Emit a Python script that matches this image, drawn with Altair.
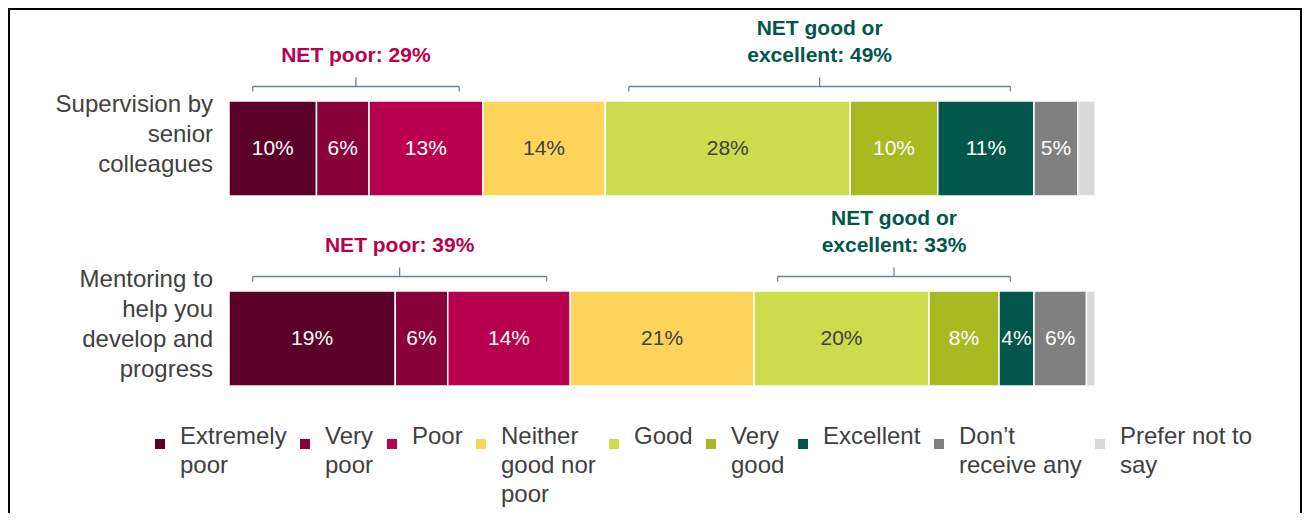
import altair as alt
import pandas as pd

# ---------------- data ----------------
categories = ["Supervision by senior colleagues",
              "Mentoring to help you develop and progress"]
category_lines = ["Supervision by\nsenior\ncolleagues",
                  "Mentoring to\nhelp you\ndevelop and\nprogress"]
responses = ["Extremely poor", "Very poor", "Poor", "Neither good nor poor",
             "Good", "Very good", "Excellent", "Don\u2019t receive any",
             "Prefer not to say"]
legend_lines = [["Extremely", "poor"], ["Very", "poor"], ["Poor"],
                ["Neither", "good nor", "poor"], ["Good"], ["Very", "good"],
                ["Excellent"], ["Don\u2019t", "receive any"],
                ["Prefer not to", "say"]]
supervision = [10, 6, 13, 14, 28, 10, 11, 5, 2]
mentoring = [19, 6, 14, 21, 20, 8, 4, 6, 1]
show_label = [True, True, True, True, True, True, True, True, False]
dark_text = [False, False, False, True, True, False, False, False, False]
net_poor = [29, 39]
net_good = [49, 33]

colors = ["#5b0026", "#8a0039", "#b8004e", "#ffd45a", "#cbdc4c",
          "#a8ba22", "#02574a", "#808080", "#d9d9d9"]
POOR_C = "#b8004e"
GOOD_C = "#02574a"
BRACKET_C = "#6b8299"
TEXT_C = "#404040"

# ---------------- layout ----------------
W, H = 1294, 505
PX_PER_PCT = 8.75
X0 = (8 - 229) / PX_PER_PCT
X1 = X0 + W / PX_PER_PCT
INSET = 2.7
LABEL_LH = 30

# ---------------- tables ----------------
rows = []
brackets = []
for cat, vals, npoor, ngood in zip(categories, [supervision, mentoring], net_poor, net_good):
    cum = 0
    starts, ends = [], []
    for i, (r, v) in enumerate(zip(responses, vals)):
        rows.append(dict(category=cat, response=r, start=cum, end=cum + v,
                         mid=cum + v / 2, label=f"{v}%", show=show_label[i],
                         dark=dark_text[i]))
        starts.append(cum)
        ends.append(cum + v)
        cum += v
    brackets.append(dict(category=cat, kind="poor", x0=starts[0] + INSET,
                         x1=ends[2] - INSET, text=f"NET poor: {npoor}%"))
    brackets.append(dict(category=cat, kind="good", x0=starts[4] + INSET,
                         x1=ends[6] - INSET,
                         text=f"NET good or\nexcellent: {ngood}%"))
df = pd.DataFrame(rows)
br = pd.DataFrame(brackets)
br["xm"] = (br["x0"] + br["x1"]) / 2
ends_df = pd.concat([br[["category", "x0"]].rename(columns={"x0": "x"}),
                     br[["category", "x1"]].rename(columns={"x1": "x"})])

# legend label expression (multi-line labels, padded to equal line count
# so that every entry is top-aligned like the reference)
max_lines = max(len(l) for l in legend_lines)
def js_arr(lines):
    padded = list(lines) + [""] * (max_lines - len(lines))
    return "[" + ",".join("'" + s + "'" for s in padded) + "]"
expr = ""
for r, lines in zip(responses, legend_lines):
    expr += f"datum.label == '{r}' ? {js_arr(lines)} : "
expr += "datum.label"

x_scale = alt.Scale(domain=[X0, X1], nice=False, zero=False)
y_enc = alt.Y("category:N",
              scale=alt.Scale(domain=categories, range=[93, 378],
                              paddingInner=0.5, paddingOuter=0),
              axis=None)

bars = alt.Chart(df).mark_bar(stroke="white", strokeWidth=1.5).encode(
    x=alt.X("start:Q", scale=x_scale, axis=None),
    x2="end:Q",
    y=y_enc,
    color=alt.Color(
        "response:N",
        scale=alt.Scale(domain=responses, range=colors),
        sort=responses,
        legend=alt.Legend(
            title=None, orient="none", legendX=140, legendY=424,
            direction="horizontal", symbolType="square", symbolSize=100,
            symbolStrokeWidth=0, labelFontSize=24, labelColor=TEXT_C,
            labelFont="Liberation Sans", labelBaseline="alphabetic",
            labelOffset=8, columnPadding=6, labelLimit=400,
            labelExpr=expr, padding=0,
        ),
    ),
)

txt_light = alt.Chart(df).transform_filter("datum.show && !datum.dark").mark_text(
    fontSize=21, color="white", baseline="middle").encode(
    x=alt.X("mid:Q", axis=None), y=y_enc, text="label:N")
txt_dark = alt.Chart(df).transform_filter("datum.show && datum.dark").mark_text(
    fontSize=21, color=TEXT_C, baseline="middle").encode(
    x=alt.X("mid:Q", axis=None), y=y_enc, text="label:N")

# category labels: multi-line blocks centred slightly above each bar
ylabel_layers = []
for cat, lines in zip(categories, category_lines):
    n = len(lines.split("\n"))
    d = pd.DataFrame({"category": [cat], "lines": [lines], "zero": [0]})
    ylabel_layers.append(
        alt.Chart(d).mark_text(
            align="right", baseline="middle", dx=-16,
            dy=-14 - (n - 1) * LABEL_LH / 2, fontSize=24,
            lineHeight=LABEL_LH, color=TEXT_C, lineBreak="\n").encode(
            x=alt.X("zero:Q", axis=None), y=y_enc, text="lines:N"))

hline = alt.Chart(br).mark_rule(color=BRACKET_C, strokeWidth=1.3, yOffset=-62).encode(
    x=alt.X("x0:Q", axis=None), x2="x1:Q", y=y_enc)
endticks = alt.Chart(ends_df).mark_tick(
    orient="vertical", size=5, thickness=1.3, color=BRACKET_C, yOffset=-59.5,
    opacity=1).encode(x=alt.X("x:Q", axis=None), y=y_enc)
midticks = alt.Chart(br).mark_tick(
    orient="vertical", size=9, thickness=1.3, color=BRACKET_C, yOffset=-66.5,
    opacity=1).encode(x=alt.X("xm:Q", axis=None), y=y_enc)

net_p = alt.Chart(br).transform_filter("datum.kind == 'poor'").mark_text(
    fontSize=21, fontWeight="bold", color=POOR_C, baseline="middle", dy=-93).encode(
    x=alt.X("xm:Q", axis=None), y=y_enc, text="text:N")
net_g = alt.Chart(br).transform_filter("datum.kind == 'good'").mark_text(
    fontSize=21, fontWeight="bold", color=GOOD_C, baseline="middle", dy=-120,
    lineBreak="\n", lineHeight=27).encode(
    x=alt.X("xm:Q", axis=None), y=y_enc, text="text:N")

fr = alt.Chart(pd.DataFrame({"k": [0]}))
frame_left = fr.mark_rule(color="black", strokeWidth=2).encode(
    x=alt.value(1), y=alt.value(0), y2=alt.value(H))
frame_top = fr.mark_rule(color="black", strokeWidth=2).encode(
    x=alt.value(0), x2=alt.value(W), y=alt.value(1))
frame_right = fr.mark_rule(color="black", strokeWidth=2).encode(
    x=alt.value(W - 1), y=alt.value(0), y2=alt.value(H))

chart = alt.layer(
    bars, txt_light, txt_dark, *ylabel_layers, hline, endticks, midticks,
    net_p, net_g, frame_left, frame_top, frame_right,
).properties(
    width=W, height=H, padding=0, autosize=alt.AutoSizeParams(type="none")
).configure(
    font="Liberation Sans", style={"guide-label": {"lineHeight": 29}}
).configure_view(stroke=None)

chart.save("out.html", embed_options={"renderer": "svg", "actions": False})
